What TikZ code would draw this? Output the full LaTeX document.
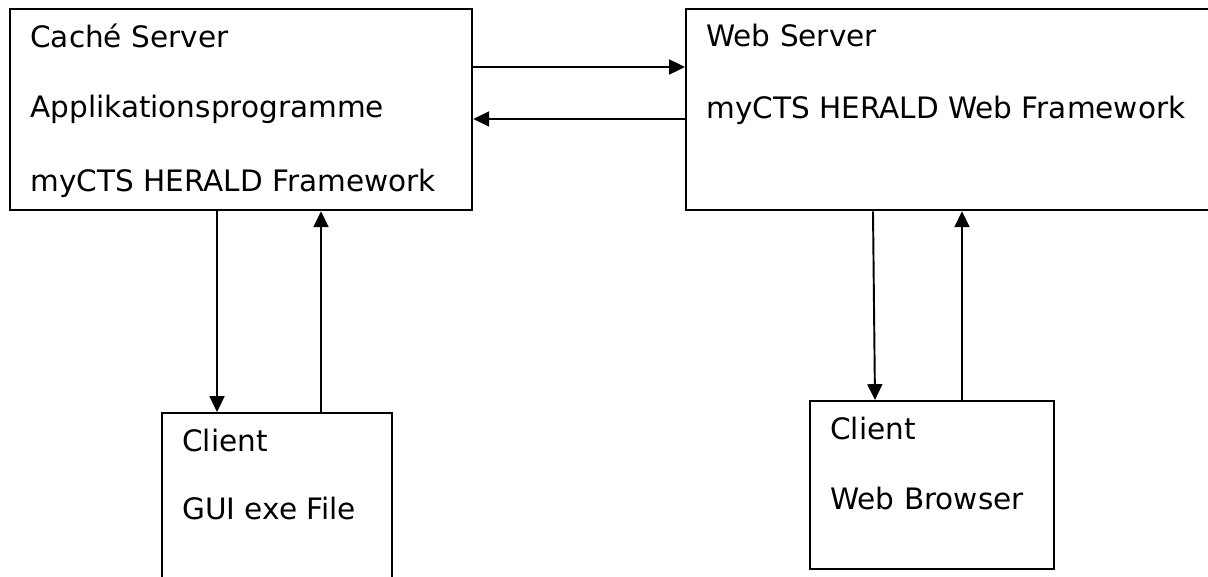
\documentclass[tikz,border=0pt]{standalone}
\usepackage{fontspec}
\setmainfont{DejaVu Sans}
\usetikzlibrary{arrows.meta,positioning}

\tikzset{
  box/.style={draw,rectangle,line width=1.3pt,inner sep=0pt,anchor=north west},
  lbl/.style={anchor=base west,inner sep=0pt,font=\fontsize{16.8}{20}\selectfont},
  arr/.style={line width=1.1pt,-{Triangle[length=9pt,width=8.5pt]}}
}

\begin{document}
\begin{tikzpicture}[x=0.02cm,y=-0.02cm]
	\useasboundingbox (0,0) rectangle (1208,577);
	% boxes
	\node[box,minimum width=462*0.02cm,minimum height=201*0.02cm] (cache) at (9,8) {};
	\node[box,minimum width=530*0.02cm,minimum height=201*0.02cm] (web) at (685,8) {};
	\node[box,minimum width=230*0.02cm,minimum height=180*0.02cm] (gui) at (161,412) {};
	\node[box,minimum width=244*0.02cm,minimum height=168*0.02cm] (browser) at (809,400) {};
	% texts
	\node[lbl] (cache1) at (30,48) {Caché Server};
	\node[lbl] (cache2) at (30,118) {Applikationsprogramme};
	\node[lbl] (cache3) at (30,192) {myCTS HERALD Framework};
	\node[lbl] (web1) at (706,47) {Web Server};
	\node[lbl] (web2) at (706,119) {myCTS HERALD Web Framework};
	\node[lbl] (gui1) at (182,452) {Client};
	\node[lbl] (gui2) at (182,520) {GUI exe File};
	\node[lbl] (browser1) at (830,440) {Client};
	\node[lbl] (browser2) at (830,510) {Web Browser};
	% connectors
	\draw[arr] (cache.east |- 0,67) -- (web.west |- 0,67);
	\draw[arr] (web.west |- 0,119) -- (cache.east |- 0,119);
	\draw[arr] (217,0 |- cache.south) -- (217,0 |- gui.north);
	\draw[arr] (321,0 |- gui.north) -- (321,0 |- cache.south);
	\draw[arr] (873,0 |- web.south) -- (875,0 |- browser.north);
	\draw[arr] (962,0 |- browser.north) -- (962,0 |- web.south);
\end{tikzpicture}
\end{document}
